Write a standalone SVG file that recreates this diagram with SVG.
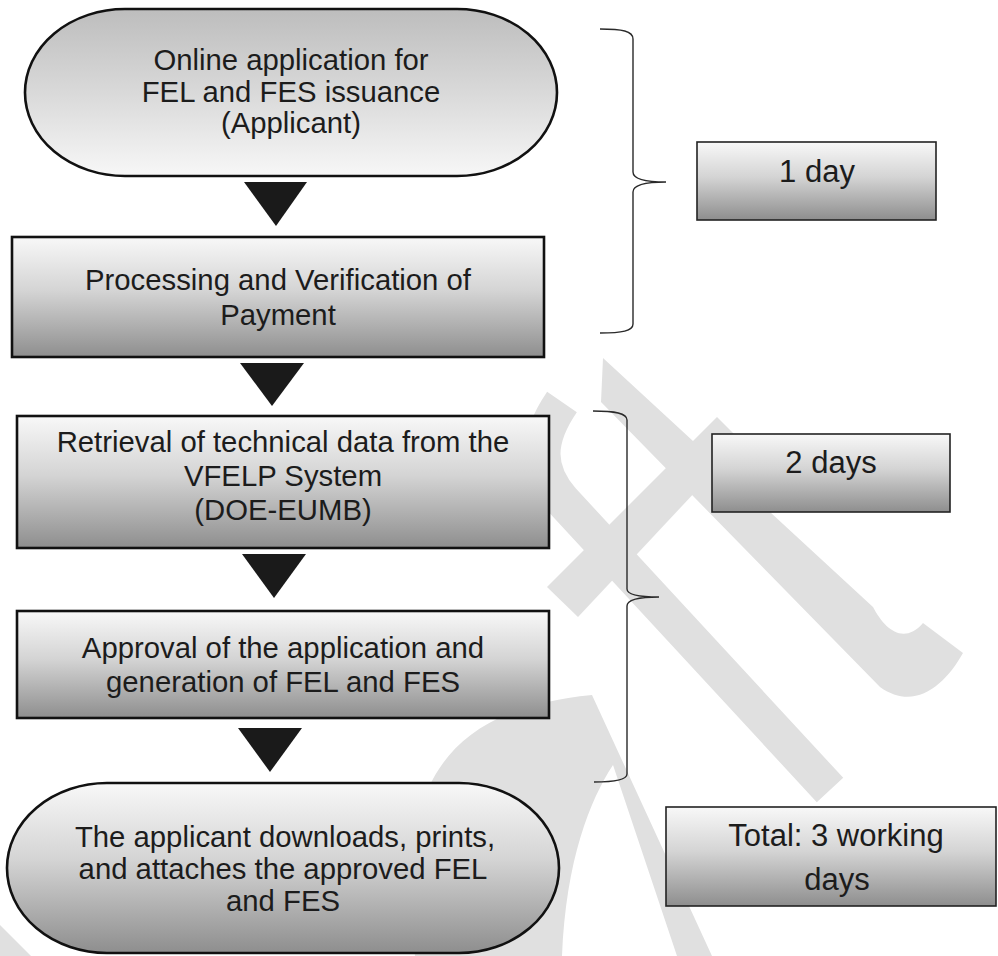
<svg xmlns="http://www.w3.org/2000/svg" width="998" height="956" viewBox="0 0 998 956">
<defs>
<linearGradient id="gDown" x1="0" y1="0" x2="0" y2="1">
<stop offset="0" stop-color="#f8f8f8"/>
<stop offset="0.45" stop-color="#d4d4d4"/>
<stop offset="1" stop-color="#8e8e8e"/>
</linearGradient>
<linearGradient id="gUp" x1="0" y1="0" x2="0" y2="1">
<stop offset="0" stop-color="#bdbdbd"/>
<stop offset="0.5" stop-color="#d9d9d9"/>
<stop offset="1" stop-color="#f7f7f7"/>
</linearGradient>
<style>
.node{fill:url(#gDown);stroke:#111;stroke-width:2.6}
.term-top{fill:url(#gUp);stroke:#111;stroke-width:2.6}
.time{fill:url(#gDown);stroke:#222;stroke-width:1.6}
.t{font-family:"Liberation Sans",Arial,sans-serif;font-size:29.3px;fill:#1c1c1c;text-anchor:middle}
.tr{font-family:"Liberation Sans",Arial,sans-serif;font-size:31px;fill:#1c1c1c;text-anchor:middle}
.arrow{fill:#1a1a1a}
.brace{fill:none;stroke:#2a2a2a;stroke-width:1.4}
.wm{fill:#e0e0e0}
.wms{fill:none;stroke:#e0e0e0}
</style>
</defs>
<rect width="998" height="956" fill="#ffffff"/>
<g id="watermark">
<path class="wm" d="M603,358 L873,607 C884,628 903,646 923,623 L963,653 C945,685 915,712 880,687 L601,402 Z"/>
<polygon class="wm" points="717,417 742,442 578,617 547,587"/>
<path class="wms" stroke-width="36" d="M562,402 C536,440 536,470 562,500 L830,790"/>
<path class="wm" d="M415,956 C395,790 440,710 592,695 L712,956 L677,956 L613,765 C590,800 566,860 562,956 Z"/>
<polygon class="wm" points="0,925 31,956 0,956"/>
</g>
<g id="connectors">
<polygon class="arrow" points="244,182 307,182 276,226"/>
<polygon class="arrow" points="240,363 304,363 272,406"/>
<polygon class="arrow" points="242,554 306,554 274,598"/>
<polygon class="arrow" points="238,728 302,728 270,772"/>
<path class="brace" d="M600,29 C622,29 633,31 633,39 L633,172 C633,179 645,182 666,182 C645,182 633,185 633,192 L633,324 C633,331 622,333 600,333"/>
<path class="brace" d="M593,411 C615,411 627,413 627,420 L627,589 C627,595 639,597 659,597 C639,597 627,600 627,606 L627,774 C627,780 615,782 594,782"/>
</g>
<g id="n1">
<rect class="term-top" x="25" y="9" width="532" height="167" rx="100" ry="83.5"/>
<text class="t" x="291" y="70">Online application for</text>
<text class="t" x="291" y="102">FEL and FES issuance</text>
<text class="t" x="291" y="133">(Applicant)</text>
</g>
<g id="n2">
<rect class="node" x="12" y="237" width="532" height="120"/>
<text class="t" x="278" y="290">Processing and Verification of</text>
<text class="t" x="278" y="325">Payment</text>
</g>
<g id="n3">
<rect class="node" x="17" y="416" width="532" height="132"/>
<text class="t" x="283" y="452">Retrieval of technical data from the</text>
<text class="t" x="283" y="486">VFELP System</text>
<text class="t" x="283" y="520">(DOE-EUMB)</text>
</g>
<g id="n4">
<rect class="node" x="17" y="611" width="532" height="107"/>
<text class="t" x="283" y="658">Approval of the application and</text>
<text class="t" x="283" y="692">generation of FEL and FES</text>
</g>
<g id="n5">
<rect class="node" x="7" y="783" width="552" height="170" rx="100" ry="85"/>
<text class="t" x="285" y="847">The applicant downloads, prints,</text>
<text class="t" x="283" y="879">and attaches the approved FEL</text>
<text class="t" x="283" y="911">and FES</text>
</g>
<g id="t1">
<rect class="time" x="697" y="142" width="239" height="78"/>
<text class="tr" x="817" y="182">1 day</text>
</g>
<g id="t2">
<rect class="time" x="712" y="434" width="238" height="78"/>
<text class="tr" x="831" y="473">2 days</text>
</g>
<g id="t3">
<rect class="time" x="666" y="807" width="330" height="99"/>
<text class="tr" x="836" y="846">Total: 3 working</text>
<text class="tr" x="837" y="890">days</text>
</g>
</svg>
